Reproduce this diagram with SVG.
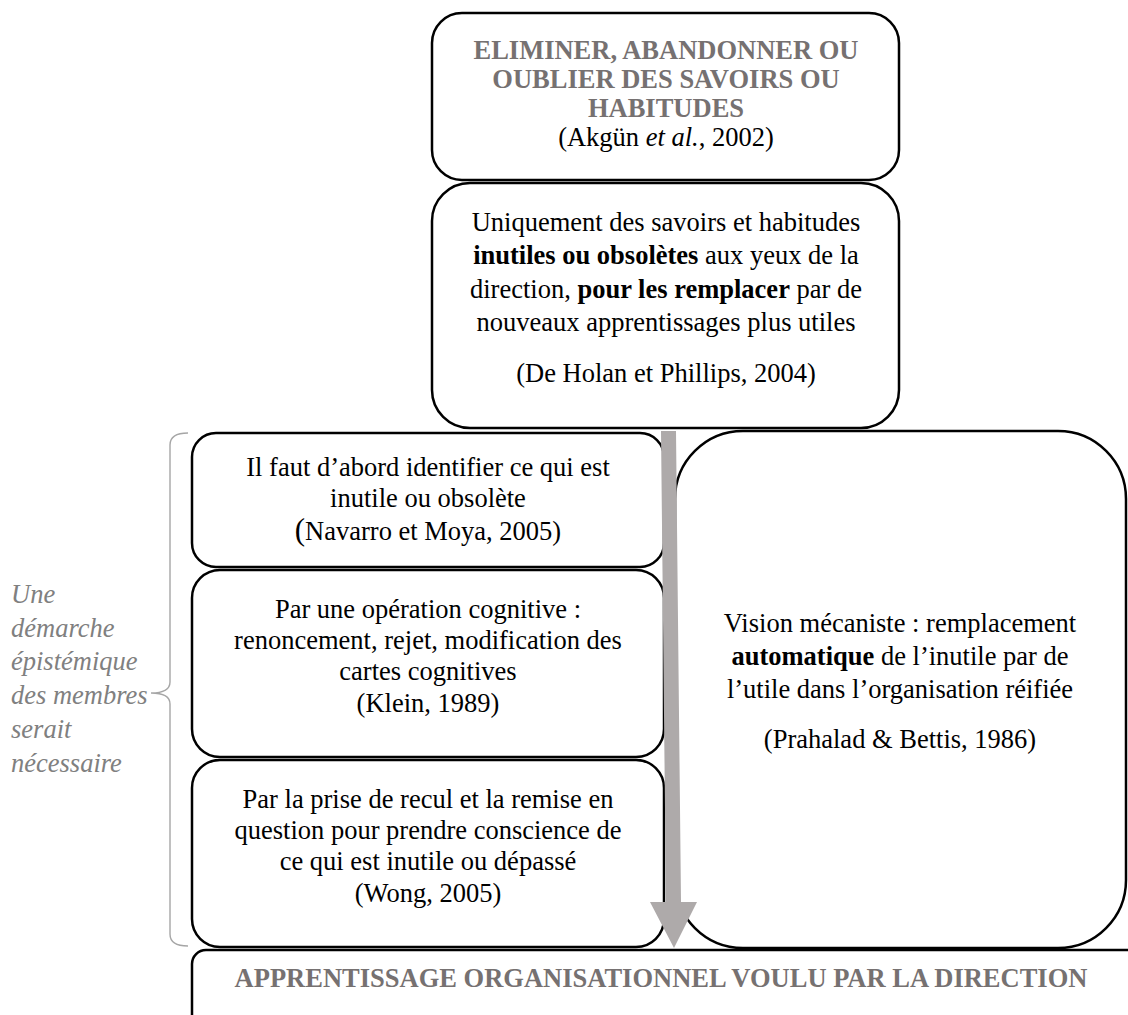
<svg xmlns="http://www.w3.org/2000/svg" width="1128" height="1015" viewBox="0 0 1128 1015">
<style>
.box{fill:#fff;stroke:#000;stroke-width:2.5}
.t{font-family:"Liberation Serif","Times New Roman",serif;font-size:26.5px;fill:#000;text-anchor:middle}
.h{font-weight:bold;fill:#767171}
.it{font-family:"Liberation Serif","Times New Roman",serif;font-size:26.5px;font-style:italic;fill:#808080}
.b{font-weight:bold}
</style>
<rect width="1128" height="1015" fill="#fff"/>
<g id="node-top">
<rect class="box" x="432" y="13" width="467" height="167" rx="30"/>
<text class="t h" x="666" y="59">ELIMINER, ABANDONNER OU</text>
<text class="t h" x="666" y="88">OUBLIER DES SAVOIRS OU</text>
<text class="t h" x="666" y="117">HABITUDES</text>
<text class="t" x="666" y="146">(Akgün <tspan font-style="italic">et al.</tspan>, 2002)</text>
</g>
<g id="node-uniquement">
<rect class="box" x="432" y="183" width="467" height="245" rx="38"/>
<text class="t" x="666" y="231">Uniquement des savoirs et habitudes</text>
<text class="t" x="666" y="264"><tspan class="b">inutiles ou obsolètes</tspan> aux yeux de la</text>
<text class="t" x="666" y="298">direction, <tspan class="b">pour les remplacer</tspan> par de</text>
<text class="t" x="666" y="331">nouveaux apprentissages plus utiles</text>
<text class="t" x="666" y="382">(De Holan et Phillips, 2004)</text>
</g>
<g id="node-vision">
<rect class="box" x="675" y="431" width="451" height="517" rx="68"/>
<text class="t" x="900" y="632">Vision mécaniste : remplacement</text>
<text class="t" x="900" y="665"><tspan class="b">automatique</tspan> de l’inutile par de</text>
<text class="t" x="900" y="698">l’utile dans l’organisation réifiée</text>
<text class="t" x="900" y="748">(Prahalad &amp; Bettis, 1986)</text>
</g>
<g id="node-identifier">
<rect class="box" x="192" y="433" width="472" height="134" rx="24"/>
<text class="t" x="428" y="476">Il faut d’abord identifier ce qui est</text>
<text class="t" x="428" y="507">inutile ou obsolète</text>
<text class="t" x="428" y="540"><tspan font-size="31">(</tspan>Navarro et Moya, 2005)</text>
</g>
<g id="node-cognitive">
<rect class="box" x="192" y="570" width="472" height="187" rx="28"/>
<text class="t" x="428" y="618">Par une opération cognitive :</text>
<text class="t" x="428" y="649">renoncement, rejet, modification des</text>
<text class="t" x="428" y="680">cartes cognitives</text>
<text class="t" x="428" y="712">(Klein, 1989)</text>
</g>
<g id="node-recul">
<rect class="box" x="192" y="760" width="472" height="187" rx="28"/>
<text class="t" x="428" y="808">Par la prise de recul et la remise en</text>
<text class="t" x="428" y="839">question pour prendre conscience de</text>
<text class="t" x="428" y="870">ce qui est inutile ou dépassé</text>
<text class="t" x="428" y="902">(Wong, 2005)</text>
</g>
<g id="node-apprentissage">
<rect class="box" x="192" y="950" width="1000" height="120" rx="14"/>
<text class="t h" x="661" y="987">APPRENTISSAGE ORGANISATIONNEL VOULU PAR LA DIRECTION</text>
</g>
<g id="node-demarche">
<text class="it" x="11" y="603">Une</text>
<text class="it" x="11" y="637">démarche</text>
<text class="it" x="11" y="670">épistémique</text>
<text class="it" x="11" y="704">des membres</text>
<text class="it" x="11" y="738">serait</text>
<text class="it" x="11" y="772">nécessaire</text>
</g>
<g id="connectors">
<path d="M188,433 Q170,433 170,445 L170,682 Q170,693 151,693 Q170,693 170,704 L170,934 Q170,946 188,946" fill="none" stroke="#a6a6a6" stroke-width="1.4"/>
<polygon points="661,431 676,431 681,902 697,902 674,948 650,902 666,902" fill="#aeaaaa"/>
</g>
</svg>
